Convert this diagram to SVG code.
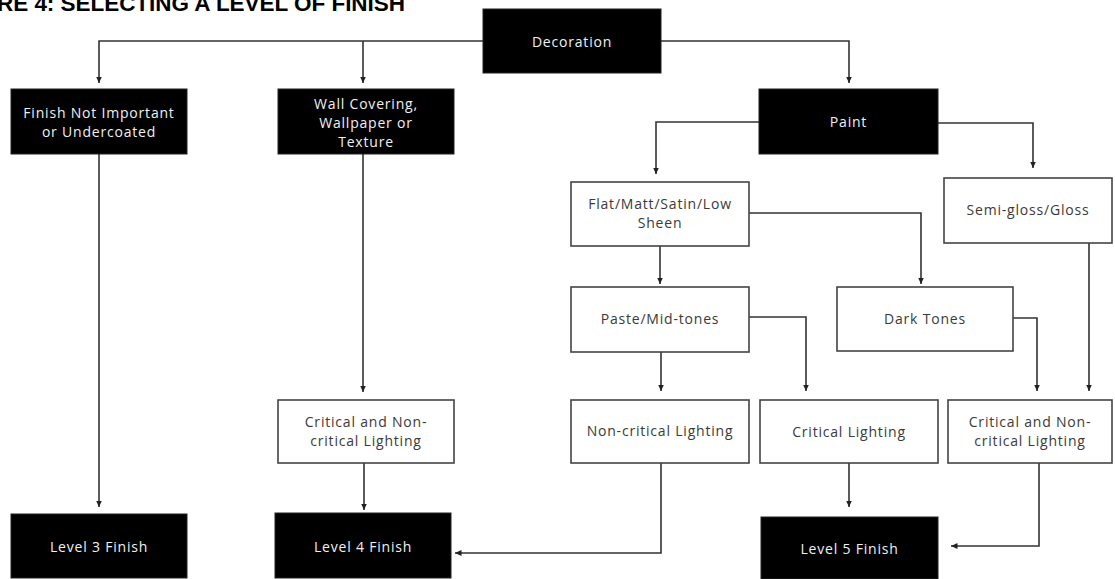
<svg xmlns="http://www.w3.org/2000/svg" width="1115" height="579" viewBox="0 0 1115 579">
<style>
.title{font-family:"Liberation Sans",Arial,sans-serif;font-weight:bold;font-size:22.5px;fill:#000}
.dk rect{fill:#000;stroke:#222;stroke-width:1}
.lt rect{fill:#fff;stroke:#444;stroke-width:1.6}
.dk text{font-family:"Open Sans","Noto Sans",sans-serif;font-size:14px;letter-spacing:0.8px;fill:#f0f0f0;text-anchor:middle;dominant-baseline:central}
.lt text{font-family:"Open Sans","Noto Sans",sans-serif;font-size:14px;letter-spacing:0.8px;fill:#3a3a3a;text-anchor:middle;dominant-baseline:central}
.conn path{fill:none;stroke:#333;stroke-width:1.6;marker-end:url(#ah)}
</style>
<defs>
<marker id="ah" markerUnits="userSpaceOnUse" markerWidth="7" markerHeight="7" refX="6.5" refY="3.5" orient="auto">
<path d="M0,0.5 L6.5,3.5 L0,6.5 z" fill="#222"/>
</marker>
</defs>
<rect width="1115" height="579" fill="#fff"/>
<text class="title" x="-3" y="11" textLength="408" lengthAdjust="spacing">RE 4: SELECTING A LEVEL OF FINISH</text>

<g class="conn" id="connectors">
<path d="M483,41 H99 V83"/>
<path d="M363,41 V83"/>
<path d="M661,41 H849 V83"/>
<path d="M759,122 H656 V174"/>
<path d="M938,123 H1033 V168"/>
<path d="M660,246 V284"/>
<path d="M749,213 H921 V284"/>
<path d="M661,352 V391"/>
<path d="M749,317 H806 V391"/>
<path d="M1013,318 H1037 V391"/>
<path d="M1089,243 V391"/>
<path d="M363,154 V392"/>
<path d="M99,154 V507"/>
<path d="M364,463 V510"/>
<path d="M661,463 V553 H455"/>
<path d="M849,463 V507"/>
<path d="M1039,463 V546 H951"/>
</g>

<g id="decoration" class="dk"><rect x="483" y="9" width="178" height="64"/><text x="572" y="41">Decoration</text></g>
<g id="finish-not-important" class="dk"><rect x="11" y="89" width="176" height="65"/><text x="99" y="112">Finish Not Important</text><text x="99" y="131.5">or Undercoated</text></g>
<g id="wall-covering" class="dk"><rect x="278" y="89" width="176" height="65"/><text x="366" y="103.5">Wall Covering,</text><text x="366" y="122.5">Wallpaper or</text><text x="366" y="141.5">Texture</text></g>
<g id="paint" class="dk"><rect x="759" y="89" width="179" height="65"/><text x="848.5" y="121">Paint</text></g>
<g id="flat" class="lt"><rect x="571" y="182" width="178" height="64"/><text x="660" y="203.5">Flat/Matt/Satin/Low</text><text x="660" y="222.5">Sheen</text></g>
<g id="semi-gloss" class="lt"><rect x="944" y="178" width="168" height="65"/><text x="1028" y="209">Semi-gloss/Gloss</text></g>
<g id="paste" class="lt"><rect x="571" y="287" width="178" height="65"/><text x="660" y="318">Paste/Mid-tones</text></g>
<g id="dark-tones" class="lt"><rect x="837" y="287" width="176" height="64"/><text x="925" y="318.5">Dark Tones</text></g>
<g id="critical-noncritical-1" class="lt"><rect x="278" y="400" width="176" height="63"/><text x="366" y="421">Critical and Non-</text><text x="366" y="440">critical Lighting</text></g>
<g id="non-critical" class="lt"><rect x="571" y="400" width="178" height="63"/><text x="660" y="430.5">Non-critical Lighting</text></g>
<g id="critical" class="lt"><rect x="760" y="400" width="178" height="63"/><text x="849" y="431">Critical Lighting</text></g>
<g id="critical-noncritical-2" class="lt"><rect x="948" y="400" width="164" height="63"/><text x="1030" y="421">Critical and Non-</text><text x="1030" y="440">critical Lighting</text></g>
<g id="level3" class="dk"><rect x="11" y="514" width="176" height="64"/><text x="99" y="546">Level 3 Finish</text></g>
<g id="level4" class="dk"><rect x="275" y="513" width="176" height="65"/><text x="363" y="546">Level 4 Finish</text></g>
<g id="level5" class="dk"><rect x="761" y="517" width="177" height="62"/><text x="849.5" y="548.5">Level 5 Finish</text></g>
</svg>
